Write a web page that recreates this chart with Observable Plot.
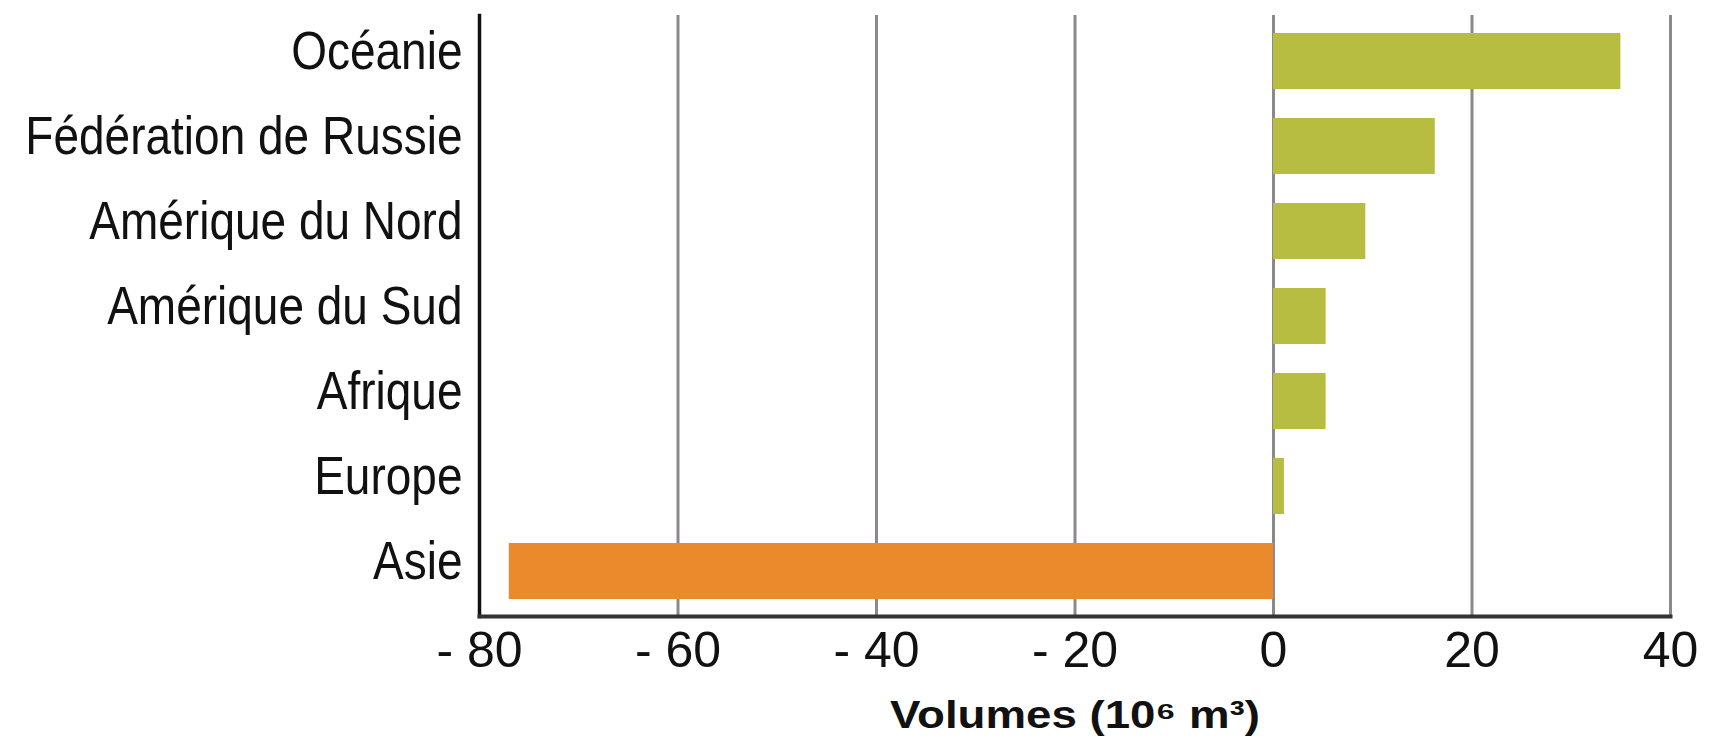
<!DOCTYPE html>
<html>
<head>
<meta charset="utf-8">
<script src="https://cdn.jsdelivr.net/npm/d3@7"></script>
<script src="https://cdn.jsdelivr.net/npm/@observablehq/plot@0.6"></script>
<style>
  html, body { margin: 0; padding: 0; background: #fff; }
  svg { display: block; }
</style>
</head>
<body>
<div id="chart"></div>
<script>
const regions = ["Océanie", "Fédération de Russie", "Amérique du Nord", "Amérique du Sud", "Afrique", "Europe", "Asie"];
const volumes = [35, 16.3, 9.3, 5.3, 5.3, 1.1, -77];
const xTicks = [-80, -60, -40, -20, 0, 20, 40];
const xTitle = "Volumes (10⁶ m³)";

const data = regions.map((r, i) => ({region: r, value: volumes[i]}));

const chart = Plot.plot({
  width: 1717,
  height: 742,
  marginLeft: 479,
  marginRight: 47,
  marginTop: 15,
  marginBottom: 126,
  style: {fontFamily: "'Liberation Sans', Arial, Helvetica, sans-serif", color: "#111", background: "#fff"},
  x: {domain: [-80, 40]},
  y: {domain: regions, paddingInner: 0.347, paddingOuter: 0.175},
  marks: [
    Plot.ruleX(xTicks.slice(1), {stroke: "#8a8a8a", strokeWidth: 3}),
    Plot.barX(data, {
      x: "value",
      y: "region",
      fill: d => d.value < 0 ? "#eb8a2c" : "#b6bd41"
    }),
    Plot.frame({anchor: "left", stroke: "#111", strokeWidth: 3.5}),
    Plot.frame({anchor: "bottom", stroke: "#333", strokeWidth: 4}),
    Plot.axisX({
      ticks: xTicks,
      tickFormat: d => d < 0 ? "- " + Math.abs(d) : String(d),
      tickSize: 0,
      tickPadding: 15,
      fontSize: 50,
      label: null
    }),
    Plot.axisY({
      tickSize: 0,
      tickPadding: 17,
      fontSize: 46,
      dy: -10,
      label: null
    }),
    Plot.text([xTitle], {
      frameAnchor: "bottom",
      dy: 99,
      lineAnchor: "middle",
      fontSize: 39,
      fontWeight: "bold",
      fill: "#111"
    })
  ]
});

// Stretch category labels vertically and the title horizontally to match the reference lettering
d3.select(chart).selectAll('g[aria-label="y-axis tick label"] text').each(function() {
  const t = this.getAttribute("transform") || "";
  this.setAttribute("transform", t + " scale(1,1.18)");
});
d3.select(chart).selectAll('g[aria-label="text"] text').each(function() {
  const t = this.getAttribute("transform") || "";
  this.setAttribute("transform", t + " scale(1.17,1)");
});

document.getElementById("chart").appendChild(chart);
</script>
</body>
</html>
